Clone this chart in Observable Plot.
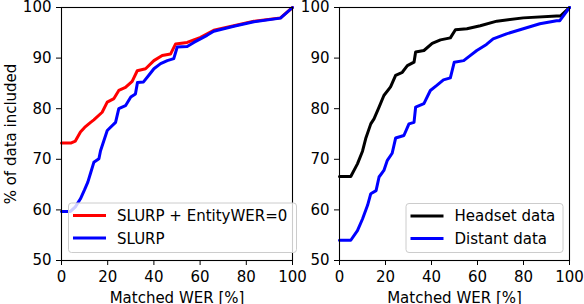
<!DOCTYPE html>
<html><head><meta charset="utf-8">
<script src="https://cdn.jsdelivr.net/npm/d3@7"></script>
<script src="https://cdn.jsdelivr.net/npm/@observablehq/plot@0.6"></script>
<style>
html,body{margin:0;padding:0;background:#fff;}
#wrap{position:relative;width:584px;height:304px;overflow:hidden;font-family:"DejaVu Sans",sans-serif;}
#wrap svg{position:absolute;left:0;top:0;overflow:visible;}
</style></head>
<body><div id="wrap"></div>
<script>
// ---- data ----
const xTicks = [0, 20, 40, 60, 80, 100];
const yTicks = [50, 60, 70, 80, 90, 100];
const xLabel = "Matched WER [%]";
const yLabel = "% of data included";

// left panel
const leftSeries = ["SLURP + EntityWER=0", "SLURP"];
const leftColors = ["#ff0000", "#0000ff"];
const werRed = [0,4,6,8.2,10,12.6,14,17.6,19.8,22.7,24.8,27.7,30.6,32.8,36.4,40,43.6,47.2,49.4,54.4,60.2,65.9,74.6,83.3,94.8,100];
const pctRed = [73.2,73.2,73.6,75.4,76.3,77.3,77.8,79.3,81.3,82.0,83.6,84.2,85.4,87.5,87.9,89.5,90.5,90.8,92.8,93.1,94.1,95.5,96.4,97.3,97.95,100];
const werSlurp = [0,3.9,6,8.2,10,11.4,12.6,14,16.2,16.9,19.8,23.4,24.8,27.7,30,32,32.9,35.5,37.8,40,42.9,45.8,48.6,50.1,54.4,57.3,63,65.9,74.6,83.3,94.8,100];
const pctSlurp = [59.7,59.7,60.6,62.2,64,65.5,67.3,69.4,70.1,71.7,75.7,77.3,80,80.6,82.3,82.9,85.2,85.3,86.6,87.9,88.9,89.5,89.9,92.2,92.3,93.1,94.5,95.3,96.3,97.2,97.9,100];

// right panel
const rightSeries = ["Headset data", "Distant data"];
const rightColors = ["#000000", "#0000ff"];
const werHead = [0,4.9,7.8,10,11.4,13.6,15,17.2,19.3,22.2,24.4,27.3,29.5,32.4,33.1,36.7,40.3,43.9,48.2,50.4,55.4,61.2,68.4,79.9,94.4,96,100];
const pctHead = [66.6,66.6,69.1,71.6,74.1,77,78,80.3,82.6,84.3,86.6,87.2,88.5,89.2,91.2,91.5,92.9,93.6,94,95.6,95.8,96.4,97.3,97.95,98.3,98.3,100];
const werDist = [0,4.9,7.8,10,12.2,13.6,15.9,17.2,19.3,20.8,22.9,24.4,28,30.2,32.4,33.1,36.7,39.5,42.3,45.2,48.2,49.9,54,56.8,59.7,63.9,66.8,72.6,79.9,87.1,94.4,95.8,100];
const pctDist = [54,54,55.9,58.2,60.9,63.2,63.8,66.5,67.8,69.8,71.2,74.2,74.7,77,77.3,80.3,81,83.6,84.6,85.7,86.1,89.2,89.5,90.5,91.5,92.7,93.8,94.8,95.8,96.8,97.4,97.4,100];

const toRows = (w, p, s) => w.map((x, i) => ({wer: x, pct: p[i], series: s}));
const leftData = [...toRows(werRed, pctRed, leftSeries[0]), ...toRows(werSlurp, pctSlurp, leftSeries[1])];
const rightData = [...toRows(werHead, pctHead, rightSeries[0]), ...toRows(werDist, pctDist, rightSeries[1])];

const W = 584, H = 304, MT = 7, MB = 44;
const FONT = "DejaVu Sans";

function panel(data, series, colors, ml, mr, showYLabel) {
  return Plot.plot({
    width: W, height: H,
    marginLeft: ml, marginRight: mr, marginTop: MT, marginBottom: MB,
    style: {fontFamily: FONT, fontSize: "15px", background: "transparent", color: "black", overflow: "visible"},
    x: {domain: [0, 100]},
    y: {domain: [50, 100]},
    color: {domain: series, range: colors},
    marks: [
      Plot.line(data, {x: "wer", y: "pct", z: "series", stroke: "series", strokeWidth: 3, curve: "linear"}),
      Plot.frame({stroke: "black", strokeWidth: 1.1}),
      Plot.axisX({ticks: xTicks, tickSize: 5, tickPadding: 6, label: xLabel, labelAnchor: "center", labelOffset: 42, labelArrow: "none", fontSize: 15}),
      Plot.axisY({ticks: yTicks, tickSize: 5, tickPadding: 5, label: showYLabel ? yLabel : null, labelAnchor: "center", labelOffset: 56, labelArrow: "none", fontSize: 15})
    ]
  });
}

const wrap = document.getElementById("wrap");
wrap.appendChild(panel(leftData, leftSeries, leftColors, 61, W - 292, true));
wrap.appendChild(panel(rightData, rightSeries, rightColors, 339, W - 569, false));

// legends
const lsvg = d3.select(wrap).append("svg").attr("width", W).attr("height", H)
  .style("font-family", FONT).style("font-size", "15px");
function legend(x0, y0, w, h, names, colors) {
  const g = lsvg.append("g").attr("transform", `translate(${x0},${y0})`);
  g.append("rect").attr("x", 0.5).attr("y", 0.5).attr("width", w).attr("height", h).attr("rx", 3)
    .attr("fill", "white").attr("fill-opacity", 0.8).attr("stroke", "#cccccc").attr("stroke-width", 1);
  names.forEach((n, i) => {
    const yy = 13 + i * 22.6;
    g.append("line").attr("x1", 5).attr("x2", 38).attr("y1", yy).attr("y2", yy)
      .attr("stroke", colors[i]).attr("stroke-width", 3);
    g.append("text").attr("x", 49).attr("y", yy).attr("dy", "0.36em").attr("fill", "black").text(n);
  });
}
legend(68, 202.5, 228, 49.5, leftSeries, leftColors);
legend(405.5, 203, 157, 49, rightSeries, rightColors);
</script>
</body></html>
